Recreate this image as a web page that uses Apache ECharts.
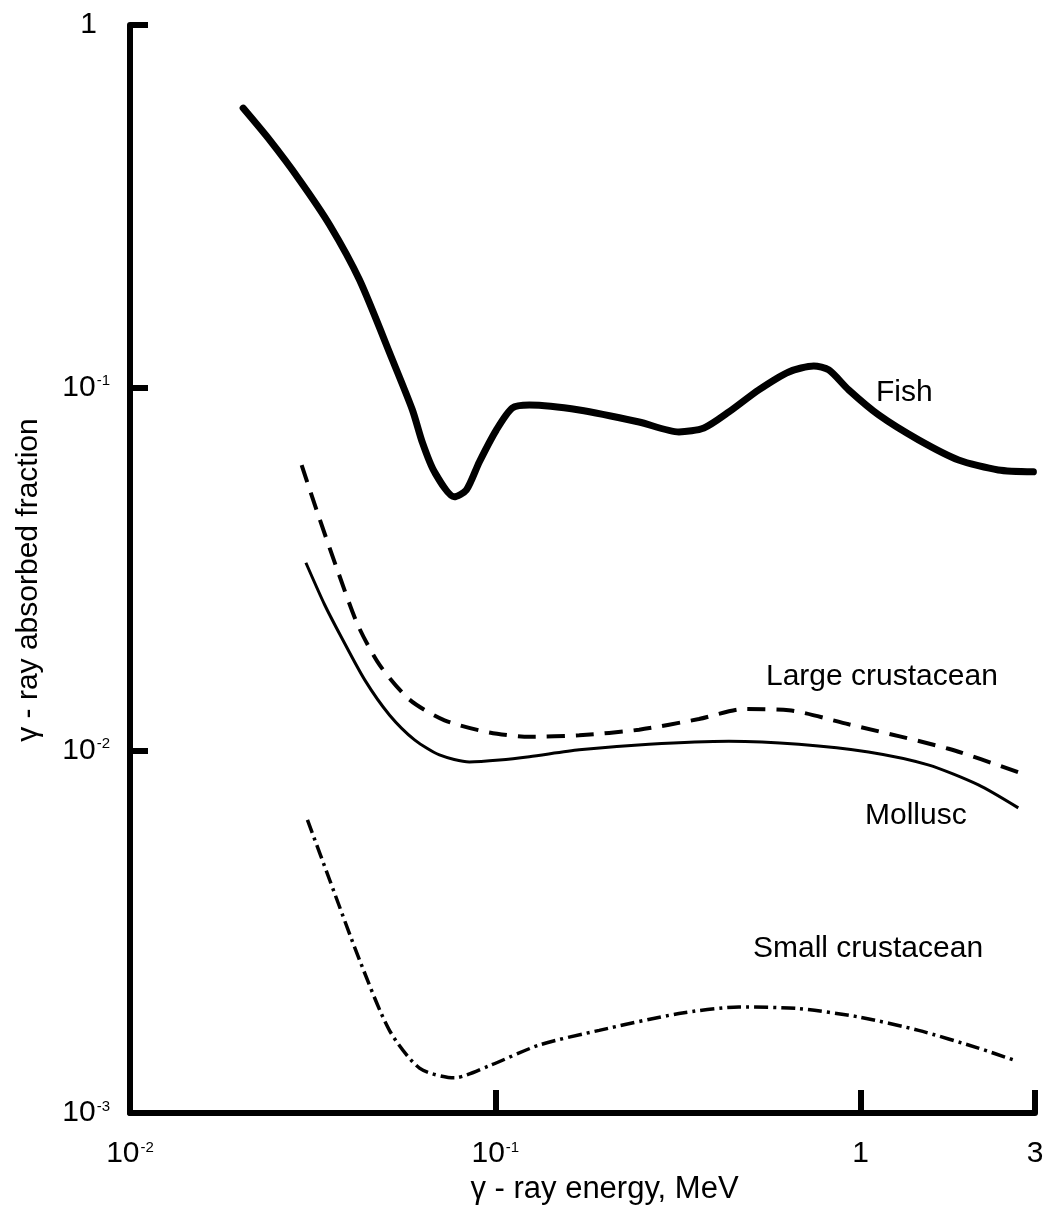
<!DOCTYPE html>
<html><head><meta charset="utf-8">
<script src="https://cdn.jsdelivr.net/npm/echarts@6/dist/echarts.min.js"></script>
<style>html,body{margin:0;padding:0;background:#fff}#c{width:1048px;height:1210px}</style>
</head><body><div id="c"></div>
<script>
// ---- data (energy in MeV, absorbed fraction) ----
const fishE = [0.0204, 0.0241, 0.0291, 0.0352, 0.0425, 0.0523, 0.0593, 0.0632, 0.0681, 0.0772, 0.0833, 0.0904, 0.1006, 0.1113, 0.1239, 0.1697, 0.2474, 0.318, 0.3724, 0.4358, 0.526, 0.6357, 0.744, 0.818, 0.927, 1.12, 1.44, 1.853, 2.38, 2.97];
const fishV = [0.590, 0.482, 0.374, 0.281, 0.198, 0.1192, 0.0868, 0.0704, 0.0586, 0.0500, 0.0522, 0.0624, 0.0764, 0.0879, 0.0896, 0.0868, 0.0804, 0.0755, 0.0774, 0.0857, 0.0986, 0.1105, 0.1148, 0.1119, 0.0986, 0.0841, 0.0718, 0.0632, 0.0593, 0.0586];

const largeE = [0.0295, 0.0324, 0.0368, 0.0420, 0.0482, 0.0582, 0.0726, 0.0963, 0.1239, 0.1697, 0.2474, 0.3608, 0.479, 0.636, 0.927, 1.74, 2.70];
const largeV = [0.0612, 0.046, 0.0318, 0.0222, 0.0172, 0.0138, 0.0121, 0.0112, 0.0109, 0.0110, 0.0114, 0.0122, 0.0130, 0.0129, 0.0118, 0.0101, 0.0087];

const molluscE = [0.0303, 0.0341, 0.0379, 0.0439, 0.0513, 0.0601, 0.0703, 0.0849, 0.1026, 0.1239, 0.1697, 0.2635, 0.4358, 0.677, 1.05, 1.53, 2.10, 2.70];
const molluscV = [0.0329, 0.0252, 0.0205, 0.01564, 0.01252, 0.01069, 0.00971, 0.00929, 0.0094, 0.0096, 0.01003, 0.0104, 0.0106, 0.0104, 0.0099, 0.00912, 0.00803, 0.00694];

const smallE = [0.0306, 0.0352, 0.0425, 0.0513, 0.0620, 0.0772, 0.0963, 0.1319, 0.1924, 0.318, 0.4642, 0.677, 0.987, 1.44, 2.10, 2.62];
const smallV = [0.00643, 0.00439, 0.00264, 0.00169, 0.00133, 0.00125, 0.00135, 0.00154, 0.00169, 0.00188, 0.00196, 0.00194, 0.00184, 0.00169, 0.00151, 0.0014];

const xLabelValues = [0.01, 0.1, 1, 3];
const xTickValues = [0.1, 1, 3];
const yLabelValues = [0.001, 0.01, 0.1, 1];
const yTickValues = [0.01, 0.1, 1];

const xTitle = 'γ - ray energy, MeV';
const yTitle = 'γ - ray absorbed fraction';
const seriesNames = ['Fish', 'Large crustacean', 'Mollusc', 'Small crustacean'];

// ---- helpers ----
const FONT = '"Liberation Sans", Arial, Helvetica, sans-serif';
function pairs(e, v) { return e.map((x, i) => [x, v[i]]); }
function powLabel(v, isY) {
  if (Math.abs(v - 1) < 1e-9) return isY ? '{one|1}' : '{n|1}';
  if (Math.abs(v - 3) < 1e-9) return '{n|3}';
  const p = Math.round(Math.log10(v));
  return '{n|10}{s|' + p + '}';
}
const rich = {
  n: { fontSize: 30, fontFamily: FONT, color: '#000', lineHeight: 34 },
  one: { fontSize: 30, fontFamily: FONT, color: '#000', lineHeight: 34, padding: [0, 13, 0, 0] },
  s: { fontSize: 15, fontFamily: FONT, color: '#000', lineHeight: 34, verticalAlign: 'top', padding: [3, 0, 0, 1] }
};

const chart = echarts.init(document.getElementById('c'), null, { renderer: 'canvas' });
const lineBase = { type: 'line', showSymbol: false, smooth: 0.25, clip: false, animation: false };

chart.setOption({
  animation: false,
  backgroundColor: '#fff',
  grid: { left: 130, right: 13, top: 25, bottom: 97, containLabel: false },
  xAxis: {
    type: 'log', logBase: 10, min: 0.01, max: 3,
    name: xTitle, nameLocation: 'middle', nameGap: 58,
    nameTextStyle: { fontSize: 31, fontFamily: FONT, color: '#000', padding: [0, 0, 0, 44] },
    axisLine: { show: true, lineStyle: { color: '#000', width: 6 } },
    axisTick: { show: true, inside: true, length: 23, lineStyle: { color: '#000', width: 6 }, customValues: xTickValues },
    minorTick: { show: false },
    axisLabel: { show: true, margin: 24, formatter: v => powLabel(v, false), rich: rich, customValues: xLabelValues },
    splitLine: { show: false }, minorSplitLine: { show: false }
  },
  yAxis: {
    type: 'log', logBase: 10, min: 0.001, max: 1,
    name: yTitle, nameLocation: 'middle', nameGap: 86,
    nameTextStyle: { fontSize: 30, fontFamily: FONT, color: '#000', padding: [0, 22, 0, 0] },
    axisLine: { show: true, lineStyle: { color: '#000', width: 6 } },
    axisTick: { show: true, inside: true, length: 18, lineStyle: { color: '#000', width: 6 }, customValues: yTickValues },
    minorTick: { show: false },
    axisLabel: { show: true, margin: 20, formatter: v => powLabel(v, true), rich: rich, customValues: yLabelValues },
    splitLine: { show: false }, minorSplitLine: { show: false }
  },
  series: [
    Object.assign({}, lineBase, { name: seriesNames[0], data: pairs(fishE, fishV), lineStyle: { color: '#000', width: 7, cap: 'round', join: 'round' } }),
    Object.assign({}, lineBase, { name: seriesNames[1], data: pairs(largeE, largeV), lineStyle: { color: '#000', width: 4, type: [18, 11] } }),
    Object.assign({}, lineBase, { name: seriesNames[2], data: pairs(molluscE, molluscV), lineStyle: { color: '#000', width: 3 } }),
    Object.assign({}, lineBase, { name: seriesNames[3], data: pairs(smallE, smallV), lineStyle: { color: '#000', width: 3.5, type: [14, 5, 3, 5] } })
  ],
  graphic: [
    { type: 'text', x: 876, y: 393, style: { text: seriesNames[0], fontSize: 30, fontFamily: FONT, fill: '#000', textVerticalAlign: 'middle' } },
    { type: 'text', x: 766, y: 677, style: { text: seriesNames[1], fontSize: 30, fontFamily: FONT, fill: '#000', textVerticalAlign: 'middle' } },
    { type: 'text', x: 865, y: 816, style: { text: seriesNames[2], fontSize: 30, fontFamily: FONT, fill: '#000', textVerticalAlign: 'middle' } },
    { type: 'text', x: 753, y: 949, style: { text: seriesNames[3], fontSize: 30, fontFamily: FONT, fill: '#000', textVerticalAlign: 'middle' } }
  ]
});
</script>
</body></html>
